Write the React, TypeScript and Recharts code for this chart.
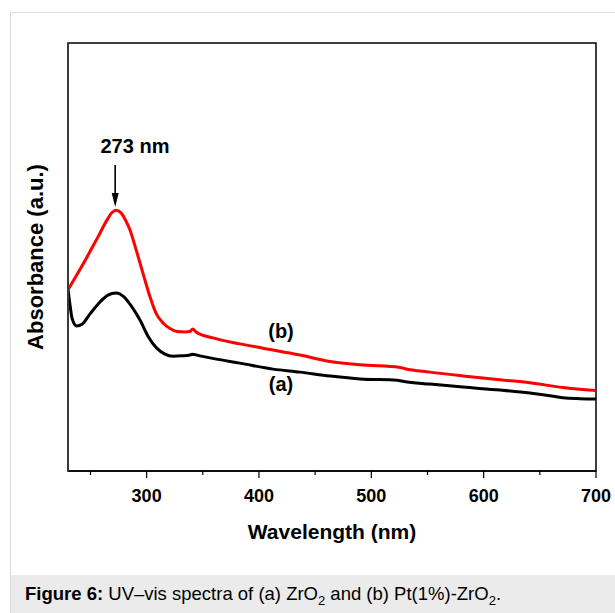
import { LineChart, Line, XAxis, YAxis, ReferenceArea, ReferenceLine, ReferenceDot } from "recharts";

const FONT = "'Liberation Sans', Arial, Helvetica, sans-serif";

// (a) ZrO2 - black curve
const zrWavelength = [230, 231.8, 233.6, 237.7, 242.5, 249.6, 258.5, 265.6, 272.7, 279.8, 287, 294.1, 301.2, 309, 316.3, 323.5, 331.5, 338.6, 340.4, 347.5, 360.9, 383.1, 412.5, 436.5, 463.2, 490, 522.9, 529.1, 552.2, 581.6, 614.6, 641.2, 663.5, 670.6, 685.8, 700];
const zrAbsorbance = [0.425, 0.388, 0.357, 0.339, 0.343, 0.367, 0.395, 0.411, 0.416, 0.407, 0.383, 0.353, 0.315, 0.287, 0.273, 0.268, 0.269, 0.271, 0.273, 0.269, 0.262, 0.252, 0.238, 0.231, 0.222, 0.215, 0.212, 0.209, 0.203, 0.196, 0.189, 0.182, 0.174, 0.171, 0.169, 0.168];

// (b) Pt(1%)-ZrO2 - red curve
const ptWavelength = [230, 237.1, 244.2, 249.6, 256.7, 264.4, 269.2, 272.7, 277.2, 281.6, 285.2, 289.6, 294.1, 298.5, 303, 308.3, 314.6, 320.8, 327, 334.1, 338.6, 341, 343.9, 359, 383.1, 403.6, 436.5, 463.2, 490, 525.5, 530, 552.1, 581.6, 614.6, 641.2, 670.6, 700];
const ptAbsorbance = [0.423, 0.455, 0.487, 0.513, 0.547, 0.585, 0.604, 0.609, 0.603, 0.584, 0.563, 0.526, 0.486, 0.446, 0.407, 0.369, 0.346, 0.333, 0.326, 0.325, 0.326, 0.332, 0.325, 0.311, 0.297, 0.287, 0.271, 0.256, 0.248, 0.242, 0.239, 0.231, 0.222, 0.213, 0.206, 0.195, 0.188];

const xTicks = [250, 300, 350, 400, 450, 500, 550, 600, 650, 700];

const toPoints = (w: number[], a: number[]) => w.map((x, i) => ({ w: x, a: a[i] }));

const WavelengthTick = (props: any) => {
  const { x, y, payload } = props;
  const major = payload.value % 100 === 0;
  return (
    <g>
      <line x1={x} y1={y} x2={x} y2={y + (major ? 7 : 4)} stroke="#000" strokeWidth={1.2} />
      {major && (
        <text x={x} y={y + 31} textAnchor="middle" fontSize={18} fontWeight="bold" fontFamily={FONT} fill="#000">
          {payload.value}
        </text>
      )}
    </g>
  );
};

const Arrow = (props: any) => {
  const { x1, y1, x2, y2 } = props;
  return (
    <g>
      <line x1={x1} y1={y1} x2={x2} y2={y2 - 10} stroke="#000" strokeWidth={1.6} />
      <polygon points={`${x2 - 3.5},${y2 - 14} ${x2 + 3.5},${y2 - 14} ${x2},${y2}`} fill="#000" />
    </g>
  );
};

const textDot = (label: string, size: number) => (p: any) => (
  <text x={p.cx} y={p.cy} textAnchor="middle" dominantBaseline="central" fontSize={size} fontWeight="bold" fontFamily={FONT} fill="#000">
    {label}
  </text>
);

export default function App() {
  return (
    <div style={{ position: "absolute", left: 0, top: 0, width: 615, height: 613, overflow: "hidden", background: "#fff" }}>
      <div style={{ position: "absolute", left: 10, top: 12, width: 640, height: 640, border: "1px solid #dcdcdc" }} />
      <div style={{ position: "absolute", left: 0, top: 0 }}>
        <LineChart width={615} height={575} margin={{ top: 43, right: 19, left: 0, bottom: 0 }}>
          <XAxis
            type="number"
            dataKey="w"
            domain={[230, 700]}
            ticks={xTicks}
            interval={0}
            allowDataOverflow
            height={104}
            tickSize={0}
            tickMargin={0}
            tickLine={false}
            tick={<WavelengthTick />}
            axisLine={{ stroke: "#000", strokeWidth: 1.5 }}
            label={{ value: "Wavelength (nm)", position: "insideBottom", offset: 36, fontSize: 21, fontWeight: "bold", fill: "#000", fontFamily: FONT }}
          />
          <YAxis
            type="number"
            dataKey="a"
            domain={[0, 1]}
            width={68}
            tick={false}
            tickLine={false}
            axisLine={{ stroke: "#3a3a3a", strokeWidth: 2 }}
            label={{ value: "Absorbance (a.u.)", angle: -90, position: "insideLeft", offset: 35, fontSize: 22, fontWeight: "bold", fill: "#000", fontFamily: FONT, style: { textAnchor: "middle" } }}
          />
          <ReferenceArea x1={230} x2={700} y1={0} y2={1} fill="none" stroke="#000" strokeWidth={1.5} />
          <Line data={toPoints(zrWavelength, zrAbsorbance)} dataKey="a" type="monotone" stroke="#000" strokeWidth={3} dot={false} isAnimationActive={false} />
          <Line data={toPoints(ptWavelength, ptAbsorbance)} dataKey="a" type="monotone" stroke="#ff0000" strokeWidth={3} dot={false} isAnimationActive={false} />
          <ReferenceLine segment={[{ x: 272, y: 0.715 }, { x: 272, y: 0.617 }]} shape={<Arrow />} />
          <ReferenceDot x={289.6} y={0.759} r={0} shape={textDot("273 nm", 20)} />
          <ReferenceDot x={419.6} y={0.327} r={0} shape={textDot("(b)", 20)} />
          <ReferenceDot x={419.6} y={0.203} r={0} shape={textDot("(a)", 20)} />
        </LineChart>
      </div>
      <div
        style={{
          position: "absolute",
          left: 11,
          top: 575,
          width: 604,
          height: 38,
          background: "#ebebeb",
          fontFamily: FONT,
          fontSize: 18.5,
          lineHeight: "38px",
          paddingLeft: 14,
          boxSizing: "border-box",
          color: "#000",
          whiteSpace: "nowrap",
        }}
      >
        <b>Figure 6:</b> UV–vis spectra of (a) ZrO<sub style={{ fontSize: 13, lineHeight: 0 }}>2</sub> and (b) Pt(1%)-ZrO<sub style={{ fontSize: 13, lineHeight: 0 }}>2</sub>.
      </div>
    </div>
  );
}
